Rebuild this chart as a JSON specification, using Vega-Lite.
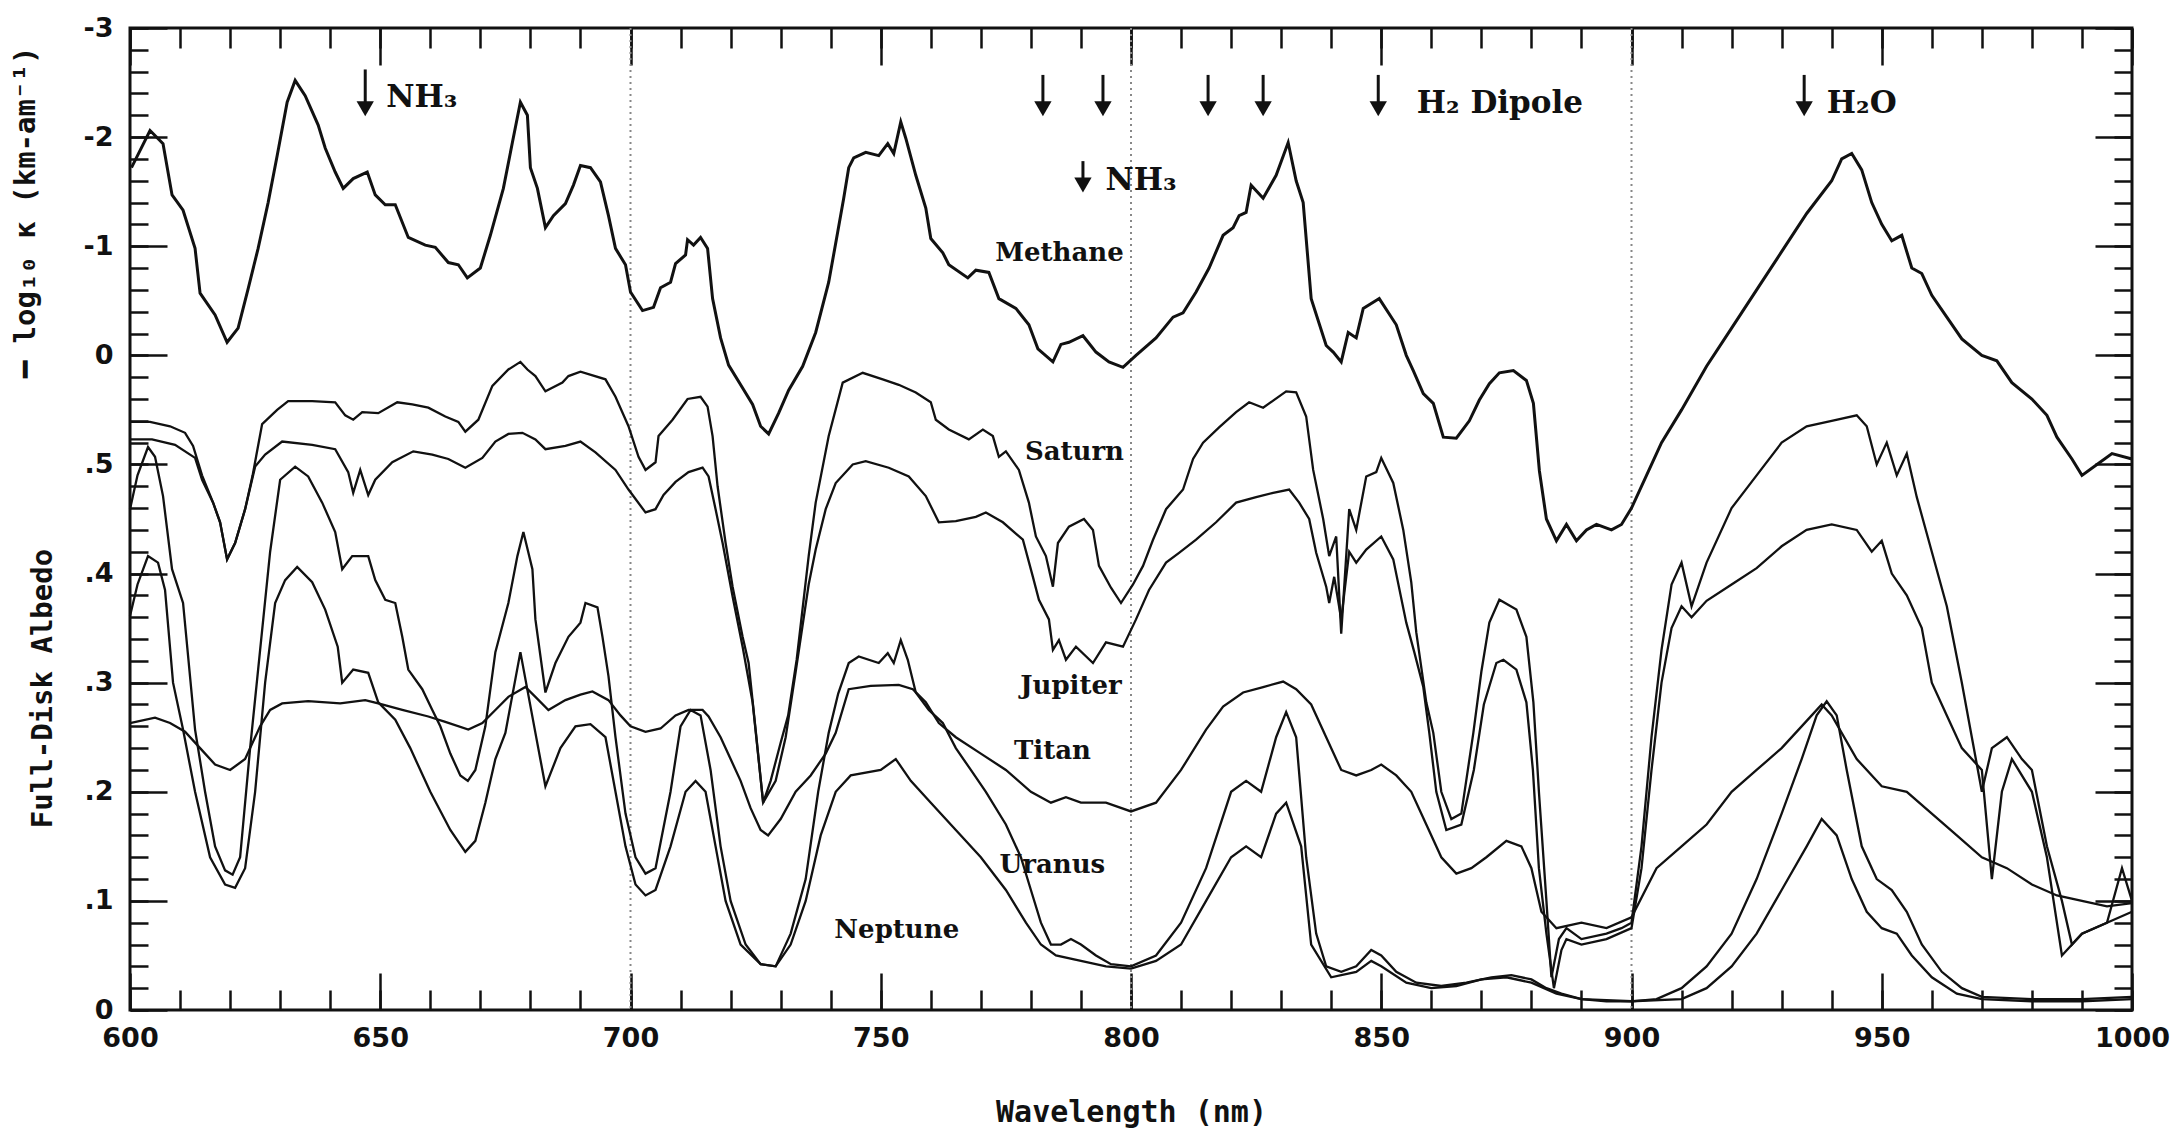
{
"$schema":"https://vega.github.io/schema/vega-lite/v6.json",
"width":2002,"height":982,"autosize":"none",
"padding":{"left":130,"top":28,"right":47,"bottom":125},
"background":"white",
"config":{"view":{"stroke":"#111","strokeWidth":3},"axis":{"domain":false,"grid":false,"tickColor":"#111","tickWidth":2.5,"labelColor":"#111","titleColor":"#111","labelFlush":false,"labelOverlap":false,"labelBound":false}},
"datasets":{
"planets":[
{"p":"Saturn","x":600,"y":0.539},{"p":"Saturn","x":604,"y":0.539},{"p":"Saturn","x":608,"y":0.535},{"p":"Saturn","x":611,"y":0.529},{"p":"Saturn","x":612.6,"y":0.517},{"p":"Saturn","x":614.4,"y":0.49},{"p":"Saturn","x":616.6,"y":0.465},{"p":"Saturn","x":618,"y":0.447},{"p":"Saturn","x":619.4,"y":0.413},{"p":"Saturn","x":621,"y":0.428},{"p":"Saturn","x":623,"y":0.459},{"p":"Saturn","x":624.5,"y":0.49},{"p":"Saturn","x":626.4,"y":0.537},{"p":"Saturn","x":629.4,"y":0.55},{"p":"Saturn","x":631.6,"y":0.558},{"p":"Saturn","x":636.4,"y":0.558},{"p":"Saturn","x":641,"y":0.557},{"p":"Saturn","x":643,"y":0.545},{"p":"Saturn","x":644.6,"y":0.541},{"p":"Saturn","x":646.4,"y":0.548},{"p":"Saturn","x":649.6,"y":0.547},{"p":"Saturn","x":653.4,"y":0.557},{"p":"Saturn","x":656.4,"y":0.555},{"p":"Saturn","x":659.6,"y":0.552},{"p":"Saturn","x":663,"y":0.544},{"p":"Saturn","x":665.6,"y":0.539},{"p":"Saturn","x":667,"y":0.53},{"p":"Saturn","x":669.6,"y":0.541},{"p":"Saturn","x":672.4,"y":0.572},{"p":"Saturn","x":675.6,"y":0.587},{"p":"Saturn","x":678,"y":0.594},{"p":"Saturn","x":679.4,"y":0.587},{"p":"Saturn","x":681,"y":0.581},{"p":"Saturn","x":683,"y":0.567},{"p":"Saturn","x":686.4,"y":0.575},{"p":"Saturn","x":687.6,"y":0.581},{"p":"Saturn","x":690,"y":0.585},{"p":"Saturn","x":695,"y":0.578},{"p":"Saturn","x":697,"y":0.562},{"p":"Saturn","x":699.6,"y":0.535},{"p":"Saturn","x":701.6,"y":0.507},{"p":"Saturn","x":703,"y":0.495},{"p":"Saturn","x":705,"y":0.502},{"p":"Saturn","x":705.6,"y":0.526},{"p":"Saturn","x":708.4,"y":0.541},{"p":"Saturn","x":711.4,"y":0.56},{"p":"Saturn","x":714,"y":0.562},{"p":"Saturn","x":715.4,"y":0.553},{"p":"Saturn","x":716.4,"y":0.526},{"p":"Saturn","x":717.4,"y":0.48},{"p":"Saturn","x":719,"y":0.428},{"p":"Saturn","x":720.4,"y":0.388},{"p":"Saturn","x":722.4,"y":0.342},{"p":"Saturn","x":723.6,"y":0.318},{"p":"Saturn","x":725,"y":0.257},{"p":"Saturn","x":726.5,"y":0.19},{"p":"Saturn","x":728,"y":0.21},{"p":"Saturn","x":730,"y":0.245},{"p":"Saturn","x":731.5,"y":0.27},{"p":"Saturn","x":733.2,"y":0.321},{"p":"Saturn","x":735.6,"y":0.416},{"p":"Saturn","x":737,"y":0.465},{"p":"Saturn","x":739.6,"y":0.526},{"p":"Saturn","x":742.4,"y":0.575},{"p":"Saturn","x":746.4,"y":0.584},{"p":"Saturn","x":750.4,"y":0.578},{"p":"Saturn","x":753.6,"y":0.573},{"p":"Saturn","x":757,"y":0.566},{"p":"Saturn","x":760,"y":0.557},{"p":"Saturn","x":761,"y":0.541},{"p":"Saturn","x":763.6,"y":0.532},{"p":"Saturn","x":767.6,"y":0.523},{"p":"Saturn","x":770.4,"y":0.532},{"p":"Saturn","x":772.4,"y":0.526},{"p":"Saturn","x":773.6,"y":0.507},{"p":"Saturn","x":775,"y":0.512},{"p":"Saturn","x":777.6,"y":0.495},{"p":"Saturn","x":779.6,"y":0.465},{"p":"Saturn","x":781,"y":0.434},{"p":"Saturn","x":783,"y":0.416},{"p":"Saturn","x":784.4,"y":0.388},{"p":"Saturn","x":785.4,"y":0.428},{"p":"Saturn","x":787.6,"y":0.443},{"p":"Saturn","x":790.6,"y":0.45},{"p":"Saturn","x":792.4,"y":0.44},{"p":"Saturn","x":793.6,"y":0.407},{"p":"Saturn","x":796,"y":0.387},{"p":"Saturn","x":798,"y":0.373},{"p":"Saturn","x":800.4,"y":0.39},{"p":"Saturn","x":802.4,"y":0.407},{"p":"Saturn","x":804.4,"y":0.431},{"p":"Saturn","x":807,"y":0.459},{"p":"Saturn","x":810.4,"y":0.477},{"p":"Saturn","x":812.4,"y":0.505},{"p":"Saturn","x":814.4,"y":0.52},{"p":"Saturn","x":817.6,"y":0.534},{"p":"Saturn","x":821,"y":0.548},{"p":"Saturn","x":823.6,"y":0.557},{"p":"Saturn","x":826.4,"y":0.552},{"p":"Saturn","x":831,"y":0.567},{"p":"Saturn","x":833,"y":0.566},{"p":"Saturn","x":835,"y":0.544},{"p":"Saturn","x":836.4,"y":0.495},{"p":"Saturn","x":838.4,"y":0.45},{"p":"Saturn","x":839.6,"y":0.416},{"p":"Saturn","x":841,"y":0.434},{"p":"Saturn","x":842,"y":0.345},{"p":"Saturn","x":843.6,"y":0.459},{"p":"Saturn","x":845,"y":0.44},{"p":"Saturn","x":847,"y":0.489},{"p":"Saturn","x":849,"y":0.493},{"p":"Saturn","x":850,"y":0.506},{"p":"Saturn","x":852.4,"y":0.483},{"p":"Saturn","x":854.4,"y":0.44},{"p":"Saturn","x":856,"y":0.392},{"p":"Saturn","x":857,"y":0.346},{"p":"Saturn","x":859,"y":0.282},{"p":"Saturn","x":860.4,"y":0.254},{"p":"Saturn","x":862,"y":0.2},{"p":"Saturn","x":864,"y":0.175},{"p":"Saturn","x":866,"y":0.18},{"p":"Saturn","x":868.4,"y":0.254},{"p":"Saturn","x":870,"y":0.31},{"p":"Saturn","x":871.6,"y":0.355},{"p":"Saturn","x":873.6,"y":0.376},{"p":"Saturn","x":877,"y":0.367},{"p":"Saturn","x":879,"y":0.342},{"p":"Saturn","x":880.4,"y":0.282},{"p":"Saturn","x":881.5,"y":0.2},{"p":"Saturn","x":883,"y":0.1},{"p":"Saturn","x":884,"y":0.03},{"p":"Saturn","x":885.5,"y":0.065},{"p":"Saturn","x":887,"y":0.075},{"p":"Saturn","x":890,"y":0.065},{"p":"Saturn","x":895,"y":0.07},{"p":"Saturn","x":898,"y":0.075},{"p":"Saturn","x":900,"y":0.08},{"p":"Saturn","x":902,"y":0.15},{"p":"Saturn","x":904,"y":0.25},{"p":"Saturn","x":906,"y":0.33},{"p":"Saturn","x":908,"y":0.39},{"p":"Saturn","x":910,"y":0.41},{"p":"Saturn","x":912,"y":0.37},{"p":"Saturn","x":915,"y":0.41},{"p":"Saturn","x":920,"y":0.46},{"p":"Saturn","x":925,"y":0.49},{"p":"Saturn","x":930,"y":0.52},{"p":"Saturn","x":935,"y":0.535},{"p":"Saturn","x":940,"y":0.54},{"p":"Saturn","x":945,"y":0.545},{"p":"Saturn","x":947,"y":0.535},{"p":"Saturn","x":949,"y":0.5},{"p":"Saturn","x":951,"y":0.52},{"p":"Saturn","x":953,"y":0.49},{"p":"Saturn","x":955,"y":0.51},{"p":"Saturn","x":957,"y":0.47},{"p":"Saturn","x":960,"y":0.42},{"p":"Saturn","x":963,"y":0.37},{"p":"Saturn","x":966,"y":0.3},{"p":"Saturn","x":968,"y":0.25},{"p":"Saturn","x":970,"y":0.2},{"p":"Saturn","x":972,"y":0.24},{"p":"Saturn","x":975,"y":0.25},{"p":"Saturn","x":978,"y":0.23},{"p":"Saturn","x":980,"y":0.22},{"p":"Saturn","x":983,"y":0.15},{"p":"Saturn","x":986,"y":0.1},{"p":"Saturn","x":988,"y":0.06},{"p":"Saturn","x":990,"y":0.07},{"p":"Saturn","x":995,"y":0.08},{"p":"Saturn","x":998,"y":0.13},{"p":"Saturn","x":1000,"y":0.1},
{"p":"Jupiter","x":600,"y":0.523},{"p":"Jupiter","x":604.4,"y":0.523},{"p":"Jupiter","x":609,"y":0.518},{"p":"Jupiter","x":613,"y":0.506},{"p":"Jupiter","x":614.4,"y":0.486},{"p":"Jupiter","x":616.6,"y":0.465},{"p":"Jupiter","x":618,"y":0.447},{"p":"Jupiter","x":619.4,"y":0.413},{"p":"Jupiter","x":621,"y":0.428},{"p":"Jupiter","x":623,"y":0.459},{"p":"Jupiter","x":625,"y":0.498},{"p":"Jupiter","x":627,"y":0.509},{"p":"Jupiter","x":630.4,"y":0.521},{"p":"Jupiter","x":636.4,"y":0.518},{"p":"Jupiter","x":641,"y":0.514},{"p":"Jupiter","x":643.6,"y":0.493},{"p":"Jupiter","x":644.6,"y":0.474},{"p":"Jupiter","x":646,"y":0.495},{"p":"Jupiter","x":647.6,"y":0.472},{"p":"Jupiter","x":649,"y":0.486},{"p":"Jupiter","x":652.4,"y":0.502},{"p":"Jupiter","x":656.6,"y":0.512},{"p":"Jupiter","x":660.4,"y":0.509},{"p":"Jupiter","x":663.6,"y":0.505},{"p":"Jupiter","x":667,"y":0.497},{"p":"Jupiter","x":670.4,"y":0.506},{"p":"Jupiter","x":673,"y":0.521},{"p":"Jupiter","x":675.6,"y":0.528},{"p":"Jupiter","x":678.4,"y":0.529},{"p":"Jupiter","x":681,"y":0.523},{"p":"Jupiter","x":683,"y":0.514},{"p":"Jupiter","x":687,"y":0.517},{"p":"Jupiter","x":690,"y":0.521},{"p":"Jupiter","x":693,"y":0.511},{"p":"Jupiter","x":697,"y":0.495},{"p":"Jupiter","x":699.6,"y":0.477},{"p":"Jupiter","x":703,"y":0.456},{"p":"Jupiter","x":705,"y":0.459},{"p":"Jupiter","x":706.6,"y":0.472},{"p":"Jupiter","x":709,"y":0.484},{"p":"Jupiter","x":711.6,"y":0.493},{"p":"Jupiter","x":714.4,"y":0.497},{"p":"Jupiter","x":715.6,"y":0.489},{"p":"Jupiter","x":717,"y":0.459},{"p":"Jupiter","x":718.4,"y":0.428},{"p":"Jupiter","x":720.4,"y":0.379},{"p":"Jupiter","x":722.4,"y":0.333},{"p":"Jupiter","x":724.4,"y":0.282},{"p":"Jupiter","x":726.5,"y":0.19},{"p":"Jupiter","x":729,"y":0.21},{"p":"Jupiter","x":731,"y":0.25},{"p":"Jupiter","x":733,"y":0.31},{"p":"Jupiter","x":735.6,"y":0.39},{"p":"Jupiter","x":737,"y":0.422},{"p":"Jupiter","x":739,"y":0.459},{"p":"Jupiter","x":741,"y":0.483},{"p":"Jupiter","x":744.4,"y":0.5},{"p":"Jupiter","x":747,"y":0.503},{"p":"Jupiter","x":751.6,"y":0.497},{"p":"Jupiter","x":755.6,"y":0.489},{"p":"Jupiter","x":759,"y":0.471},{"p":"Jupiter","x":761.6,"y":0.447},{"p":"Jupiter","x":765,"y":0.448},{"p":"Jupiter","x":769,"y":0.452},{"p":"Jupiter","x":771,"y":0.456},{"p":"Jupiter","x":774.4,"y":0.447},{"p":"Jupiter","x":778.4,"y":0.431},{"p":"Jupiter","x":780.4,"y":0.397},{"p":"Jupiter","x":781.6,"y":0.376},{"p":"Jupiter","x":783.6,"y":0.358},{"p":"Jupiter","x":784.4,"y":0.33},{"p":"Jupiter","x":785.6,"y":0.339},{"p":"Jupiter","x":787,"y":0.321},{"p":"Jupiter","x":789,"y":0.333},{"p":"Jupiter","x":792.4,"y":0.318},{"p":"Jupiter","x":795,"y":0.337},{"p":"Jupiter","x":798.4,"y":0.333},{"p":"Jupiter","x":801,"y":0.358},{"p":"Jupiter","x":803.6,"y":0.385},{"p":"Jupiter","x":807,"y":0.41},{"p":"Jupiter","x":809.6,"y":0.419},{"p":"Jupiter","x":813,"y":0.431},{"p":"Jupiter","x":817,"y":0.447},{"p":"Jupiter","x":821,"y":0.465},{"p":"Jupiter","x":825,"y":0.47},{"p":"Jupiter","x":828.4,"y":0.474},{"p":"Jupiter","x":831.6,"y":0.477},{"p":"Jupiter","x":833.6,"y":0.465},{"p":"Jupiter","x":835.6,"y":0.45},{"p":"Jupiter","x":837,"y":0.419},{"p":"Jupiter","x":839,"y":0.388},{"p":"Jupiter","x":839.6,"y":0.373},{"p":"Jupiter","x":840.6,"y":0.397},{"p":"Jupiter","x":842,"y":0.358},{"p":"Jupiter","x":843.6,"y":0.42},{"p":"Jupiter","x":845,"y":0.41},{"p":"Jupiter","x":847,"y":0.422},{"p":"Jupiter","x":850,"y":0.434},{"p":"Jupiter","x":852.4,"y":0.413},{"p":"Jupiter","x":855,"y":0.355},{"p":"Jupiter","x":856.6,"y":0.328},{"p":"Jupiter","x":858.4,"y":0.296},{"p":"Jupiter","x":859.6,"y":0.254},{"p":"Jupiter","x":861,"y":0.2},{"p":"Jupiter","x":863,"y":0.165},{"p":"Jupiter","x":866,"y":0.17},{"p":"Jupiter","x":868.5,"y":0.22},{"p":"Jupiter","x":870.5,"y":0.28},{"p":"Jupiter","x":873,"y":0.318},{"p":"Jupiter","x":874.4,"y":0.321},{"p":"Jupiter","x":877,"y":0.312},{"p":"Jupiter","x":879,"y":0.282},{"p":"Jupiter","x":880.3,"y":0.22},{"p":"Jupiter","x":881.5,"y":0.13},{"p":"Jupiter","x":883,"y":0.07},{"p":"Jupiter","x":884.5,"y":0.02},{"p":"Jupiter","x":886,"y":0.055},{"p":"Jupiter","x":887,"y":0.065},{"p":"Jupiter","x":890,"y":0.06},{"p":"Jupiter","x":895,"y":0.065},{"p":"Jupiter","x":900,"y":0.075},{"p":"Jupiter","x":902,"y":0.13},{"p":"Jupiter","x":904,"y":0.22},{"p":"Jupiter","x":906,"y":0.3},{"p":"Jupiter","x":908,"y":0.35},{"p":"Jupiter","x":910,"y":0.37},{"p":"Jupiter","x":912,"y":0.36},{"p":"Jupiter","x":915,"y":0.375},{"p":"Jupiter","x":920,"y":0.39},{"p":"Jupiter","x":925,"y":0.405},{"p":"Jupiter","x":930,"y":0.425},{"p":"Jupiter","x":935,"y":0.44},{"p":"Jupiter","x":940,"y":0.445},{"p":"Jupiter","x":945,"y":0.44},{"p":"Jupiter","x":948,"y":0.42},{"p":"Jupiter","x":950,"y":0.43},{"p":"Jupiter","x":952,"y":0.4},{"p":"Jupiter","x":955,"y":0.38},{"p":"Jupiter","x":958,"y":0.35},{"p":"Jupiter","x":960,"y":0.3},{"p":"Jupiter","x":963,"y":0.27},{"p":"Jupiter","x":966,"y":0.24},{"p":"Jupiter","x":970,"y":0.22},{"p":"Jupiter","x":972,"y":0.12},{"p":"Jupiter","x":974,"y":0.2},{"p":"Jupiter","x":976,"y":0.23},{"p":"Jupiter","x":980,"y":0.2},{"p":"Jupiter","x":983,"y":0.14},{"p":"Jupiter","x":986,"y":0.05},{"p":"Jupiter","x":990,"y":0.07},{"p":"Jupiter","x":995,"y":0.08},{"p":"Jupiter","x":1000,"y":0.09},
{"p":"Uranus","x":600,"y":0.459},{"p":"Uranus","x":601.5,"y":0.49},{"p":"Uranus","x":603.6,"y":0.516},{"p":"Uranus","x":605,"y":0.507},{"p":"Uranus","x":606.6,"y":0.471},{"p":"Uranus","x":608.4,"y":0.404},{"p":"Uranus","x":610.6,"y":0.373},{"p":"Uranus","x":613,"y":0.257},{"p":"Uranus","x":615,"y":0.2},{"p":"Uranus","x":617,"y":0.15},{"p":"Uranus","x":619,"y":0.128},{"p":"Uranus","x":620.5,"y":0.124},{"p":"Uranus","x":622,"y":0.14},{"p":"Uranus","x":624,"y":0.24},{"p":"Uranus","x":626,"y":0.33},{"p":"Uranus","x":628,"y":0.42},{"p":"Uranus","x":630,"y":0.486},{"p":"Uranus","x":633,"y":0.498},{"p":"Uranus","x":635.6,"y":0.489},{"p":"Uranus","x":638.4,"y":0.465},{"p":"Uranus","x":641,"y":0.438},{"p":"Uranus","x":642.4,"y":0.404},{"p":"Uranus","x":644.4,"y":0.416},{"p":"Uranus","x":647.6,"y":0.416},{"p":"Uranus","x":649,"y":0.394},{"p":"Uranus","x":651,"y":0.376},{"p":"Uranus","x":653,"y":0.373},{"p":"Uranus","x":654.4,"y":0.342},{"p":"Uranus","x":655.6,"y":0.312},{"p":"Uranus","x":658.4,"y":0.294},{"p":"Uranus","x":660.4,"y":0.275},{"p":"Uranus","x":662,"y":0.26},{"p":"Uranus","x":664,"y":0.235},{"p":"Uranus","x":666,"y":0.215},{"p":"Uranus","x":667.5,"y":0.21},{"p":"Uranus","x":669,"y":0.22},{"p":"Uranus","x":671,"y":0.26},{"p":"Uranus","x":673,"y":0.328},{"p":"Uranus","x":675.6,"y":0.373},{"p":"Uranus","x":677.4,"y":0.416},{"p":"Uranus","x":678.6,"y":0.438},{"p":"Uranus","x":680.4,"y":0.404},{"p":"Uranus","x":681,"y":0.358},{"p":"Uranus","x":683,"y":0.291},{"p":"Uranus","x":685,"y":0.318},{"p":"Uranus","x":687.6,"y":0.342},{"p":"Uranus","x":690,"y":0.355},{"p":"Uranus","x":691,"y":0.373},{"p":"Uranus","x":693.4,"y":0.369},{"p":"Uranus","x":694.4,"y":0.342},{"p":"Uranus","x":695.6,"y":0.306},{"p":"Uranus","x":697,"y":0.25},{"p":"Uranus","x":699,"y":0.18},{"p":"Uranus","x":701,"y":0.14},{"p":"Uranus","x":703,"y":0.125},{"p":"Uranus","x":705,"y":0.13},{"p":"Uranus","x":708,"y":0.2},{"p":"Uranus","x":710,"y":0.26},{"p":"Uranus","x":712,"y":0.275},{"p":"Uranus","x":714,"y":0.27},{"p":"Uranus","x":716,"y":0.22},{"p":"Uranus","x":718,"y":0.15},{"p":"Uranus","x":720,"y":0.1},{"p":"Uranus","x":723,"y":0.06},{"p":"Uranus","x":726,"y":0.042},{"p":"Uranus","x":729,"y":0.04},{"p":"Uranus","x":732,"y":0.07},{"p":"Uranus","x":735,"y":0.12},{"p":"Uranus","x":737.5,"y":0.2},{"p":"Uranus","x":739.6,"y":0.254},{"p":"Uranus","x":741.5,"y":0.29},{"p":"Uranus","x":743.6,"y":0.318},{"p":"Uranus","x":745.6,"y":0.324},{"p":"Uranus","x":749.6,"y":0.318},{"p":"Uranus","x":751.4,"y":0.327},{"p":"Uranus","x":752.6,"y":0.318},{"p":"Uranus","x":754,"y":0.339},{"p":"Uranus","x":755.4,"y":0.321},{"p":"Uranus","x":757,"y":0.291},{"p":"Uranus","x":759.6,"y":0.275},{"p":"Uranus","x":762.4,"y":0.263},{"p":"Uranus","x":765,"y":0.24},{"p":"Uranus","x":768,"y":0.22},{"p":"Uranus","x":771,"y":0.2},{"p":"Uranus","x":775,"y":0.17},{"p":"Uranus","x":778,"y":0.14},{"p":"Uranus","x":780,"y":0.11},{"p":"Uranus","x":782,"y":0.08},{"p":"Uranus","x":784,"y":0.06},{"p":"Uranus","x":786,"y":0.06},{"p":"Uranus","x":788,"y":0.065},{"p":"Uranus","x":790,"y":0.06},{"p":"Uranus","x":793,"y":0.05},{"p":"Uranus","x":796,"y":0.042},{"p":"Uranus","x":800,"y":0.04},{"p":"Uranus","x":805,"y":0.05},{"p":"Uranus","x":810,"y":0.08},{"p":"Uranus","x":815,"y":0.13},{"p":"Uranus","x":820,"y":0.2},{"p":"Uranus","x":823,"y":0.21},{"p":"Uranus","x":826,"y":0.2},{"p":"Uranus","x":829,"y":0.25},{"p":"Uranus","x":831,"y":0.273},{"p":"Uranus","x":833,"y":0.25},{"p":"Uranus","x":835,"y":0.14},{"p":"Uranus","x":837,"y":0.07},{"p":"Uranus","x":839,"y":0.04},{"p":"Uranus","x":842,"y":0.035},{"p":"Uranus","x":845,"y":0.04},{"p":"Uranus","x":848,"y":0.055},{"p":"Uranus","x":850,"y":0.05},{"p":"Uranus","x":853,"y":0.035},{"p":"Uranus","x":857,"y":0.025},{"p":"Uranus","x":862,"y":0.022},{"p":"Uranus","x":867,"y":0.025},{"p":"Uranus","x":872,"y":0.03},{"p":"Uranus","x":876,"y":0.032},{"p":"Uranus","x":880,"y":0.028},{"p":"Uranus","x":883,"y":0.02},{"p":"Uranus","x":886,"y":0.015},{"p":"Uranus","x":890,"y":0.01},{"p":"Uranus","x":895,"y":0.008},{"p":"Uranus","x":900,"y":0.008},{"p":"Uranus","x":905,"y":0.01},{"p":"Uranus","x":910,"y":0.02},{"p":"Uranus","x":915,"y":0.04},{"p":"Uranus","x":920,"y":0.07},{"p":"Uranus","x":925,"y":0.12},{"p":"Uranus","x":930,"y":0.18},{"p":"Uranus","x":934,"y":0.23},{"p":"Uranus","x":937,"y":0.27},{"p":"Uranus","x":939,"y":0.283},{"p":"Uranus","x":941,"y":0.27},{"p":"Uranus","x":943,"y":0.22},{"p":"Uranus","x":946,"y":0.15},{"p":"Uranus","x":949,"y":0.12},{"p":"Uranus","x":952,"y":0.11},{"p":"Uranus","x":955,"y":0.09},{"p":"Uranus","x":958,"y":0.06},{"p":"Uranus","x":962,"y":0.035},{"p":"Uranus","x":966,"y":0.02},{"p":"Uranus","x":970,"y":0.012},{"p":"Uranus","x":980,"y":0.01},{"p":"Uranus","x":990,"y":0.01},{"p":"Uranus","x":1000,"y":0.012},
{"p":"Neptune","x":600,"y":0.361},{"p":"Neptune","x":601.5,"y":0.39},{"p":"Neptune","x":603.6,"y":0.416},{"p":"Neptune","x":605.6,"y":0.41},{"p":"Neptune","x":607,"y":0.385},{"p":"Neptune","x":608.6,"y":0.3},{"p":"Neptune","x":610.6,"y":0.257},{"p":"Neptune","x":613,"y":0.2},{"p":"Neptune","x":616,"y":0.14},{"p":"Neptune","x":619,"y":0.115},{"p":"Neptune","x":621,"y":0.112},{"p":"Neptune","x":623,"y":0.13},{"p":"Neptune","x":625,"y":0.2},{"p":"Neptune","x":627,"y":0.3},{"p":"Neptune","x":629,"y":0.373},{"p":"Neptune","x":631,"y":0.394},{"p":"Neptune","x":633.4,"y":0.406},{"p":"Neptune","x":636.4,"y":0.392},{"p":"Neptune","x":639,"y":0.367},{"p":"Neptune","x":641.5,"y":0.333},{"p":"Neptune","x":642.4,"y":0.3},{"p":"Neptune","x":644.6,"y":0.312},{"p":"Neptune","x":647.6,"y":0.309},{"p":"Neptune","x":649.6,"y":0.282},{"p":"Neptune","x":653,"y":0.266},{"p":"Neptune","x":656,"y":0.24},{"p":"Neptune","x":660,"y":0.2},{"p":"Neptune","x":664,"y":0.165},{"p":"Neptune","x":667,"y":0.145},{"p":"Neptune","x":669,"y":0.155},{"p":"Neptune","x":671,"y":0.19},{"p":"Neptune","x":673,"y":0.23},{"p":"Neptune","x":675,"y":0.254},{"p":"Neptune","x":678,"y":0.328},{"p":"Neptune","x":681,"y":0.254},{"p":"Neptune","x":683,"y":0.205},{"p":"Neptune","x":686,"y":0.24},{"p":"Neptune","x":689,"y":0.26},{"p":"Neptune","x":692,"y":0.262},{"p":"Neptune","x":695,"y":0.25},{"p":"Neptune","x":697,"y":0.2},{"p":"Neptune","x":699,"y":0.15},{"p":"Neptune","x":701,"y":0.115},{"p":"Neptune","x":703,"y":0.105},{"p":"Neptune","x":705,"y":0.11},{"p":"Neptune","x":708,"y":0.15},{"p":"Neptune","x":711,"y":0.2},{"p":"Neptune","x":713,"y":0.21},{"p":"Neptune","x":715,"y":0.2},{"p":"Neptune","x":717,"y":0.15},{"p":"Neptune","x":719,"y":0.1},{"p":"Neptune","x":722,"y":0.06},{"p":"Neptune","x":726,"y":0.042},{"p":"Neptune","x":729,"y":0.04},{"p":"Neptune","x":732,"y":0.06},{"p":"Neptune","x":735,"y":0.1},{"p":"Neptune","x":738,"y":0.16},{"p":"Neptune","x":741,"y":0.2},{"p":"Neptune","x":744,"y":0.215},{"p":"Neptune","x":750,"y":0.22},{"p":"Neptune","x":753,"y":0.23},{"p":"Neptune","x":756,"y":0.21},{"p":"Neptune","x":760,"y":0.19},{"p":"Neptune","x":765,"y":0.165},{"p":"Neptune","x":770,"y":0.14},{"p":"Neptune","x":775,"y":0.11},{"p":"Neptune","x":779,"y":0.08},{"p":"Neptune","x":782,"y":0.06},{"p":"Neptune","x":785,"y":0.05},{"p":"Neptune","x":790,"y":0.045},{"p":"Neptune","x":795,"y":0.04},{"p":"Neptune","x":800,"y":0.038},{"p":"Neptune","x":805,"y":0.045},{"p":"Neptune","x":810,"y":0.06},{"p":"Neptune","x":815,"y":0.1},{"p":"Neptune","x":820,"y":0.14},{"p":"Neptune","x":823,"y":0.15},{"p":"Neptune","x":826,"y":0.14},{"p":"Neptune","x":829,"y":0.18},{"p":"Neptune","x":831,"y":0.19},{"p":"Neptune","x":834,"y":0.15},{"p":"Neptune","x":836,"y":0.06},{"p":"Neptune","x":840,"y":0.03},{"p":"Neptune","x":845,"y":0.035},{"p":"Neptune","x":848,"y":0.045},{"p":"Neptune","x":850,"y":0.04},{"p":"Neptune","x":855,"y":0.025},{"p":"Neptune","x":860,"y":0.02},{"p":"Neptune","x":865,"y":0.022},{"p":"Neptune","x":870,"y":0.028},{"p":"Neptune","x":875,"y":0.03},{"p":"Neptune","x":880,"y":0.025},{"p":"Neptune","x":885,"y":0.015},{"p":"Neptune","x":890,"y":0.01},{"p":"Neptune","x":900,"y":0.008},{"p":"Neptune","x":910,"y":0.01},{"p":"Neptune","x":915,"y":0.02},{"p":"Neptune","x":920,"y":0.04},{"p":"Neptune","x":925,"y":0.07},{"p":"Neptune","x":930,"y":0.11},{"p":"Neptune","x":935,"y":0.15},{"p":"Neptune","x":938,"y":0.175},{"p":"Neptune","x":941,"y":0.16},{"p":"Neptune","x":944,"y":0.12},{"p":"Neptune","x":947,"y":0.09},{"p":"Neptune","x":950,"y":0.075},{"p":"Neptune","x":953,"y":0.07},{"p":"Neptune","x":956,"y":0.05},{"p":"Neptune","x":960,"y":0.03},{"p":"Neptune","x":965,"y":0.015},{"p":"Neptune","x":970,"y":0.01},{"p":"Neptune","x":980,"y":0.008},{"p":"Neptune","x":990,"y":0.008},{"p":"Neptune","x":1000,"y":0.01},
{"p":"Titan","x":600,"y":0.263},{"p":"Titan","x":605,"y":0.268},{"p":"Titan","x":608,"y":0.263},{"p":"Titan","x":611,"y":0.255},{"p":"Titan","x":614,"y":0.24},{"p":"Titan","x":617,"y":0.225},{"p":"Titan","x":620,"y":0.22},{"p":"Titan","x":623,"y":0.23},{"p":"Titan","x":626,"y":0.26},{"p":"Titan","x":628,"y":0.275},{"p":"Titan","x":630.4,"y":0.281},{"p":"Titan","x":635.6,"y":0.283},{"p":"Titan","x":642,"y":0.281},{"p":"Titan","x":647,"y":0.284},{"p":"Titan","x":649.6,"y":0.281},{"p":"Titan","x":654.4,"y":0.275},{"p":"Titan","x":659.6,"y":0.269},{"p":"Titan","x":663,"y":0.264},{"p":"Titan","x":667.6,"y":0.257},{"p":"Titan","x":670.4,"y":0.263},{"p":"Titan","x":673,"y":0.275},{"p":"Titan","x":675.6,"y":0.287},{"p":"Titan","x":679,"y":0.296},{"p":"Titan","x":681,"y":0.287},{"p":"Titan","x":683.6,"y":0.275},{"p":"Titan","x":687,"y":0.284},{"p":"Titan","x":690,"y":0.289},{"p":"Titan","x":692.4,"y":0.292},{"p":"Titan","x":695.6,"y":0.284},{"p":"Titan","x":698,"y":0.27},{"p":"Titan","x":700,"y":0.26},{"p":"Titan","x":703,"y":0.255},{"p":"Titan","x":706,"y":0.258},{"p":"Titan","x":709,"y":0.27},{"p":"Titan","x":711.6,"y":0.275},{"p":"Titan","x":714.4,"y":0.275},{"p":"Titan","x":715.6,"y":0.269},{"p":"Titan","x":718,"y":0.25},{"p":"Titan","x":720,"y":0.23},{"p":"Titan","x":722,"y":0.21},{"p":"Titan","x":724,"y":0.185},{"p":"Titan","x":726,"y":0.165},{"p":"Titan","x":727.5,"y":0.16},{"p":"Titan","x":730,"y":0.175},{"p":"Titan","x":733,"y":0.2},{"p":"Titan","x":736,"y":0.215},{"p":"Titan","x":739,"y":0.235},{"p":"Titan","x":741,"y":0.254},{"p":"Titan","x":743.6,"y":0.294},{"p":"Titan","x":748,"y":0.297},{"p":"Titan","x":753.6,"y":0.298},{"p":"Titan","x":756.4,"y":0.294},{"p":"Titan","x":759,"y":0.282},{"p":"Titan","x":761.6,"y":0.263},{"p":"Titan","x":765,"y":0.25},{"p":"Titan","x":770,"y":0.235},{"p":"Titan","x":775,"y":0.22},{"p":"Titan","x":780,"y":0.2},{"p":"Titan","x":784,"y":0.19},{"p":"Titan","x":787,"y":0.195},{"p":"Titan","x":790,"y":0.19},{"p":"Titan","x":795,"y":0.19},{"p":"Titan","x":800,"y":0.182},{"p":"Titan","x":805,"y":0.19},{"p":"Titan","x":810,"y":0.22},{"p":"Titan","x":815,"y":0.257},{"p":"Titan","x":818.4,"y":0.278},{"p":"Titan","x":822.4,"y":0.291},{"p":"Titan","x":826.4,"y":0.296},{"p":"Titan","x":830.4,"y":0.301},{"p":"Titan","x":833,"y":0.294},{"p":"Titan","x":836,"y":0.28},{"p":"Titan","x":839,"y":0.25},{"p":"Titan","x":842,"y":0.22},{"p":"Titan","x":845,"y":0.215},{"p":"Titan","x":848,"y":0.22},{"p":"Titan","x":850,"y":0.225},{"p":"Titan","x":853,"y":0.215},{"p":"Titan","x":856,"y":0.2},{"p":"Titan","x":859,"y":0.17},{"p":"Titan","x":862,"y":0.14},{"p":"Titan","x":865,"y":0.125},{"p":"Titan","x":868,"y":0.13},{"p":"Titan","x":871,"y":0.14},{"p":"Titan","x":875,"y":0.155},{"p":"Titan","x":878,"y":0.15},{"p":"Titan","x":880,"y":0.13},{"p":"Titan","x":882,"y":0.09},{"p":"Titan","x":885,"y":0.075},{"p":"Titan","x":890,"y":0.08},{"p":"Titan","x":895,"y":0.075},{"p":"Titan","x":900,"y":0.085},{"p":"Titan","x":905,"y":0.13},{"p":"Titan","x":910,"y":0.15},{"p":"Titan","x":915,"y":0.17},{"p":"Titan","x":920,"y":0.2},{"p":"Titan","x":925,"y":0.22},{"p":"Titan","x":930,"y":0.24},{"p":"Titan","x":935,"y":0.265},{"p":"Titan","x":938,"y":0.28},{"p":"Titan","x":940,"y":0.27},{"p":"Titan","x":945,"y":0.23},{"p":"Titan","x":950,"y":0.205},{"p":"Titan","x":955,"y":0.2},{"p":"Titan","x":960,"y":0.18},{"p":"Titan","x":965,"y":0.16},{"p":"Titan","x":970,"y":0.14},{"p":"Titan","x":975,"y":0.13},{"p":"Titan","x":980,"y":0.115},{"p":"Titan","x":985,"y":0.105},{"p":"Titan","x":990,"y":0.1},{"p":"Titan","x":995,"y":0.095},{"p":"Titan","x":1000,"y":0.098}
],
"methane":[
{"x":600.3,"m":-1.72},{"x":604,"m":-2.06},{"x":606.6,"m":-1.94},{"x":608.4,"m":-1.47},{"x":610.6,"m":-1.33},{"x":613,"m":-0.98},{"x":614,"m":-0.57},{"x":617,"m":-0.37},{"x":619.4,"m":-0.12},{"x":621.6,"m":-0.25},{"x":623.6,"m":-0.61},{"x":625.6,"m":-0.98},{"x":627.6,"m":-1.4},{"x":629.4,"m":-1.83},{"x":631.4,"m":-2.32},{"x":633,"m":-2.52},{"x":635,"m":-2.38},{"x":637.6,"m":-2.11},{"x":639,"m":-1.9},{"x":641,"m":-1.68},{"x":642.6,"m":-1.53},{"x":644.6,"m":-1.62},{"x":647.4,"m":-1.68},{"x":649,"m":-1.47},{"x":651,"m":-1.38},{"x":653,"m":-1.38},{"x":655.6,"m":-1.08},{"x":659,"m":-1.01},{"x":661,"m":-0.99},{"x":663.6,"m":-0.85},{"x":665.6,"m":-0.83},{"x":667.4,"m":-0.71},{"x":670,"m":-0.8},{"x":672,"m":-1.1},{"x":674.6,"m":-1.53},{"x":676.4,"m":-1.95},{"x":678,"m":-2.32},{"x":679.4,"m":-2.2},{"x":680,"m":-1.72},{"x":681.4,"m":-1.53},{"x":683,"m":-1.17},{"x":684.6,"m":-1.28},{"x":687,"m":-1.39},{"x":688.6,"m":-1.56},{"x":690,"m":-1.74},{"x":692,"m":-1.72},{"x":694,"m":-1.59},{"x":695.6,"m":-1.28},{"x":697,"m":-0.98},{"x":699,"m":-0.83},{"x":700,"m":-0.58},{"x":702.4,"m":-0.41},{"x":704.6,"m":-0.44},{"x":706,"m":-0.62},{"x":708,"m":-0.67},{"x":709,"m":-0.84},{"x":711,"m":-0.92},{"x":711.4,"m":-1.06},{"x":712.6,"m":-1.01},{"x":714,"m":-1.08},{"x":715.4,"m":-0.98},{"x":716.4,"m":-0.52},{"x":718,"m":-0.16},{"x":719.6,"m":0.09},{"x":722.4,"m":0.3},{"x":724.4,"m":0.45},{"x":726,"m":0.65},{"x":727.6,"m":0.72},{"x":729.6,"m":0.53},{"x":731.6,"m":0.32},{"x":734.4,"m":0.1},{"x":737,"m":-0.21},{"x":739.6,"m":-0.67},{"x":741.4,"m":-1.13},{"x":742.6,"m":-1.44},{"x":743.6,"m":-1.72},{"x":744.6,"m":-1.81},{"x":747,"m":-1.86},{"x":749.6,"m":-1.83},{"x":751.4,"m":-1.94},{"x":752.6,"m":-1.85},{"x":754,"m":-2.14},{"x":755,"m":-1.99},{"x":757,"m":-1.65},{"x":759,"m":-1.35},{"x":760,"m":-1.07},{"x":762.4,"m":-0.94},{"x":763.6,"m":-0.83},{"x":767.4,"m":-0.71},{"x":769,"m":-0.78},{"x":771.6,"m":-0.76},{"x":773.6,"m":-0.52},{"x":777,"m":-0.43},{"x":779.6,"m":-0.28},{"x":781.4,"m":-0.06},{"x":784.4,"m":0.06},{"x":786,"m":-0.1},{"x":787.6,"m":-0.12},{"x":790.4,"m":-0.18},{"x":793,"m":-0.03},{"x":795.6,"m":0.06},{"x":798.4,"m":0.11},{"x":801,"m":0},{"x":805,"m":-0.16},{"x":808.4,"m":-0.35},{"x":810.4,"m":-0.39},{"x":813,"m":-0.58},{"x":815.6,"m":-0.8},{"x":818.4,"m":-1.1},{"x":820.4,"m":-1.17},{"x":821.6,"m":-1.28},{"x":823,"m":-1.31},{"x":824,"m":-1.56},{"x":826.4,"m":-1.44},{"x":829,"m":-1.65},{"x":831.4,"m":-1.95},{"x":833,"m":-1.6},{"x":834.4,"m":-1.4},{"x":836,"m":-0.52},{"x":839,"m":-0.09},{"x":840.4,"m":-0.03},{"x":842,"m":0.06},{"x":843.4,"m":-0.21},{"x":845,"m":-0.16},{"x":846.4,"m":-0.43},{"x":849.6,"m":-0.52},{"x":853,"m":-0.28},{"x":855,"m":0},{"x":856.4,"m":0.14},{"x":858.4,"m":0.35},{"x":860.4,"m":0.44},{"x":862.4,"m":0.75},{"x":865,"m":0.76},{"x":867.6,"m":0.6},{"x":869.6,"m":0.41},{"x":871.6,"m":0.26},{"x":873.6,"m":0.16},{"x":876.4,"m":0.14},{"x":879,"m":0.23},{"x":880.4,"m":0.44},{"x":881.6,"m":1.06},{"x":883,"m":1.5},{"x":885,"m":1.7},{"x":887,"m":1.55},{"x":889,"m":1.7},{"x":891,"m":1.6},{"x":893,"m":1.55},{"x":896,"m":1.6},{"x":898,"m":1.55},{"x":900,"m":1.4},{"x":903,"m":1.1},{"x":906,"m":0.8},{"x":910,"m":0.5},{"x":915,"m":0.1},{"x":920,"m":-0.25},{"x":925,"m":-0.6},{"x":930,"m":-0.95},{"x":935,"m":-1.3},{"x":940,"m":-1.6},{"x":942,"m":-1.8},{"x":944,"m":-1.85},{"x":946,"m":-1.7},{"x":948,"m":-1.4},{"x":950,"m":-1.2},{"x":952,"m":-1.05},{"x":954,"m":-1.1},{"x":956,"m":-0.8},{"x":958,"m":-0.75},{"x":960,"m":-0.55},{"x":963,"m":-0.35},{"x":966,"m":-0.15},{"x":970,"m":0},{"x":973,"m":0.05},{"x":976,"m":0.25},{"x":980,"m":0.4},{"x":983,"m":0.55},{"x":985,"m":0.75},{"x":988,"m":0.95},{"x":990,"m":1.1},{"x":993,"m":1.0},{"x":996,"m":0.9},{"x":1000,"m":0.95}
],
"names":[
{"t":"Methane","x":785.7,"y":0.694},{"t":"Saturn","x":788.7,"y":0.511},{"t":"Jupiter","x":788,"y":0.297},{"t":"Titan","x":784.3,"y":0.237},{"t":"Uranus","x":784.3,"y":0.133},{"t":"Neptune","x":753.2,"y":0.073}
],
"chem":[
{"t":"NH₃","x":658.3,"y":0.836},{"t":"NH₃","x":802,"y":0.76},{"t":"H₂ Dipole","x":873.7,"y":0.83},{"t":"H₂O","x":946,"y":0.83}
],
"arrows":[
{"x":647,"y1":0.862,"y2":0.826},{"x":782.4,"y1":0.857,"y2":0.826},{"x":794.4,"y1":0.857,"y2":0.826},{"x":815.4,"y1":0.857,"y2":0.826},{"x":826.4,"y1":0.857,"y2":0.826},{"x":849.4,"y1":0.857,"y2":0.826},{"x":934.5,"y1":0.857,"y2":0.826},{"x":790.4,"y1":0.778,"y2":0.756}
],
"grid":[{"g":700},{"g":800},{"g":900}]
},
"layer":[
{"data":{"name":"grid"},"mark":{"type":"rule","color":"#888","strokeWidth":2,"strokeDash":[2,4]},
 "encoding":{"x":{"field":"g","type":"quantitative","scale":{"domain":[600,1000],"nice":false,"zero":false},"axis":null}}},
{"data":{"name":"planets"},"mark":{"type":"line","color":"#111","strokeWidth":2.3,"interpolate":"linear"},
 "encoding":{
  "x":{"field":"x","type":"quantitative","scale":{"domain":[600,1000],"nice":false,"zero":false},
   "axis":{"orient":"bottom","values":[600,650,700,750,800,850,900,950,1000],"format":"d","tickSize":-37,"labelPadding":52,"labelFont":"DejaVu Sans","labelFontWeight":"bold","labelFontSize":27,"title":"Wavelength (nm)","titleFont":"DejaVu Sans Mono","titleFontWeight":"bold","titleFontSize":30,"titleX":1001,"titleY":102,"titleBaseline":"middle","titleAlign":"center"}},
  "y":{"field":"y","type":"quantitative","scale":{"domain":[0,0.9],"nice":false,"zero":false},
   "axis":{"orient":"left","values":[0,0.1,0.2,0.3,0.4,0.5,0.6,0.7,0.8,0.9],"tickSize":-37,"labelPadding":54,"labelFont":"DejaVu Sans","labelFontWeight":"bold","labelFontSize":27,"labelBaseline":"middle",
    "labelExpr":"datum.value < 0.05 ? '0' : datum.value < 0.55 ? '.' + round(datum.value*10) : '' + round((0.6 - datum.value)*10)",
    "title":"Full-Disk Albedo","titleFont":"DejaVu Sans Mono","titleFontWeight":"bold","titleFontSize":29,"titleX":-88,"titleY":660,"titleAngle":-90,"titleBaseline":"middle","titleAlign":"center"}},
  "detail":{"field":"p","type":"nominal"}}},
{"data":{"name":"methane"},"mark":{"type":"line","color":"#111","strokeWidth":3},
 "encoding":{
  "x":{"field":"x","type":"quantitative","scale":{"domain":[600,1000],"nice":false,"zero":false},
   "axis":{"orient":"bottom","values":[600,610,620,630,640,650,660,670,680,690,700,710,720,730,740,750,760,770,780,790,800,810,820,830,840,850,860,870,880,890,900,910,920,930,940,950,960,970,980,990,1000],"tickSize":-20,"labels":false,"title":null}},
  "y":{"field":"m","type":"quantitative","scale":{"domain":[6,-3],"nice":false,"zero":false},
   "axis":{"orient":"left","values":[-3,-2.8,-2.6,-2.4,-2.2,-2,-1.8,-1.6,-1.4,-1.2,-1,-0.8,-0.6,-0.4,-0.2,0,0.2,0.4,0.6,0.8,1,1.2,1.4,1.6,1.8,2,2.2,2.4,2.6,2.8,3,3.2,3.4,3.6,3.8,4,4.2,4.4,4.6,4.8,5,5.2,5.4,5.6,5.8,6],"tickSize":-18,"labels":false,
    "title":"━ log₁₀ κ (km-am⁻¹)","titleFont":"DejaVu Sans Mono","titleFontWeight":"bold","titleFontSize":29,"titleX":-105,"titleY":184,"titleAngle":-90,"titleBaseline":"middle","titleAlign":"center"}}}},
{"data":{"name":"names"},"mark":{"type":"text","font":"DejaVu Serif","fontWeight":"bold","fontSize":26,"color":"#111","align":"center","baseline":"middle"},
 "encoding":{
  "x":{"field":"x","type":"quantitative","scale":{"domain":[600,1000],"nice":false,"zero":false},
   "axis":{"orient":"top","values":[600,650,700,750,800,850,900,950,1000],"tickSize":-37,"labels":false,"title":null}},
  "y":{"field":"y","type":"quantitative","scale":{"domain":[0,0.9],"nice":false,"zero":false},
   "axis":{"orient":"right","values":[0,0.1,0.2,0.3,0.4,0.5,0.6,0.7,0.8,0.9],"tickSize":-37,"labels":false,"title":null}},
  "text":{"field":"t"}}},
{"data":{"name":"chem"},"mark":{"type":"text","font":"DejaVu Serif","fontWeight":"bold","fontSize":31,"color":"#111","align":"center","baseline":"middle"},
 "encoding":{
  "x":{"field":"x","type":"quantitative","scale":{"domain":[600,1000],"nice":false,"zero":false},
   "axis":{"orient":"top","values":[600,610,620,630,640,650,660,670,680,690,700,710,720,730,740,750,760,770,780,790,800,810,820,830,840,850,860,870,880,890,900,910,920,930,940,950,960,970,980,990,1000],"tickSize":-20,"labels":false,"title":null}},
  "y":{"field":"y","type":"quantitative","scale":{"domain":[0,0.9],"nice":false,"zero":false},
   "axis":{"orient":"right","values":[0,0.02,0.04,0.06,0.08,0.1,0.12,0.14,0.16,0.18,0.2,0.22,0.24,0.26,0.28,0.3,0.32,0.34,0.36,0.38,0.4,0.42,0.44,0.46,0.48,0.5,0.52,0.54,0.56,0.58,0.6,0.62,0.64,0.66,0.68,0.7,0.72,0.74,0.76,0.78,0.8,0.82,0.84,0.86,0.88,0.9],"tickSize":-18,"labels":false,"title":null}},
  "text":{"field":"t"}}},
{"data":{"name":"arrows"},"mark":{"type":"rule","color":"#111","strokeWidth":3},
 "encoding":{
  "x":{"field":"x","type":"quantitative","scale":{"domain":[600,1000],"nice":false,"zero":false},"axis":null},
  "y":{"field":"y1","type":"quantitative","scale":{"domain":[0,0.9],"nice":false,"zero":false},"axis":null},
  "y2":{"field":"y2"}}},
{"data":{"name":"arrows"},"mark":{"type":"point","shape":"triangle-down","filled":true,"color":"#111","size":300,"opacity":1},
 "encoding":{
  "x":{"field":"x","type":"quantitative","scale":{"domain":[600,1000],"nice":false,"zero":false},"axis":null},
  "y":{"field":"y2","type":"quantitative","scale":{"domain":[0,0.9],"nice":false,"zero":false},"axis":null}}}
],
"resolve":{"scale":{"x":"independent","y":"independent"},"axis":{"x":"independent","y":"independent"}}
}
